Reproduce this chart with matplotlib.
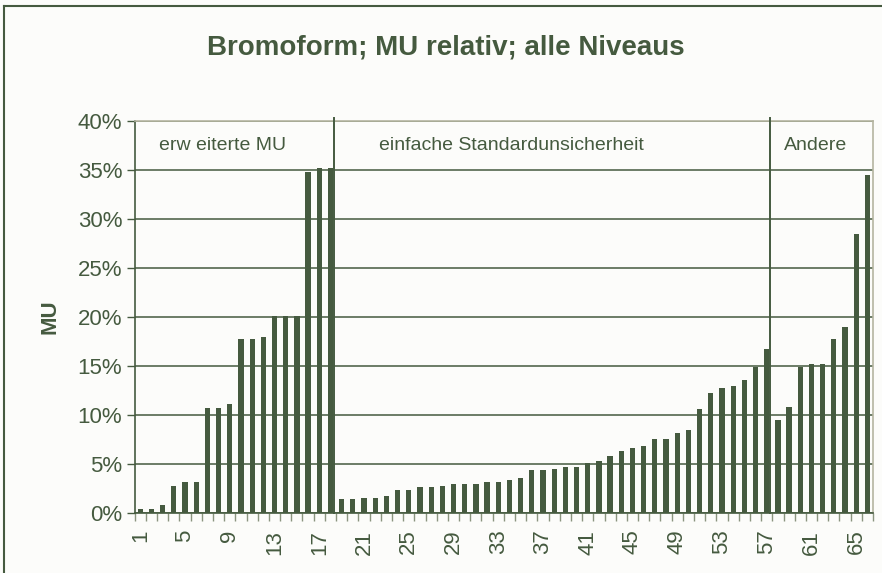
import matplotlib
matplotlib.use("Agg")
import matplotlib.pyplot as plt
from matplotlib.lines import Line2D
import numpy as np

categories = list(range(1, 67))
values = [0.4, 0.4, 0.8, 2.8, 3.2, 3.2, 10.7, 10.7, 11.1, 17.8,
          17.8, 18.0, 20.1, 20.1, 20.1, 34.8, 35.2, 35.2, 1.4, 1.4,
          1.5, 1.5, 1.7, 2.3, 2.3, 2.7, 2.7, 2.8, 3.0, 3.0,
          3.0, 3.2, 3.2, 3.4, 3.6, 4.35, 4.35, 4.5, 4.7, 4.7,
          5.1, 5.3, 5.8, 6.3, 6.6, 6.8, 7.6, 7.6, 8.2, 8.5,
          10.6, 12.2, 12.8, 13.0, 13.6, 14.9, 16.7, 9.5, 10.8, 14.9,
          15.2, 15.2, 17.8, 19.0, 28.5, 34.5]
tick_labels = [str(c) for c in range(1, 67, 4)]
section_labels = ["erw eiterte MU", "einfache Standardunsicherheit", "Andere"]
section_label_x = [2.7, 22.3, 58.5]
separators = [18.3, 57.3]
title = "Bromoform; MU relativ; alle Niveaus"
ylabel = "MU"

green = "#455a3f"
bg = "#fcfcfa"
plt.rcParams["font.family"] = ["Liberation Sans", "DejaVu Sans"]

fig = plt.figure(figsize=(8.82, 5.73), dpi=100, facecolor=bg)
ax = fig.add_axes([0.1527, 0.1047, 0.8371, 0.6841], facecolor=bg)

x = np.array(categories)
ax.bar(x, values, width=0.47, color=green, zorder=3)

ax.set_xlim(0.5, 66.5)
ax.set_ylim(0, 40)
ax.set_yticks(np.arange(0, 41, 5))
ax.set_yticklabels([f"{v}%" for v in range(0, 41, 5)], fontsize=16, color=green)
ax.yaxis.grid(True, color=green, linewidth=1.1, zorder=1)

ax.set_xticks(np.arange(1, 67, 4))
ax.set_xticklabels(tick_labels, rotation=90, fontsize=16, color=green)
ax.set_xticks(np.arange(0.5, 67, 1), minor=True)
ax.tick_params(axis="x", which="major", length=0, pad=12)
ax.tick_params(axis="x", which="minor", length=6, color="#8a947f", width=1)
ax.tick_params(axis="y", length=6, color=green, width=1, pad=3)

for s in ["top", "right"]:
    ax.spines[s].set_color("#b4b4a0")
    ax.spines[s].set_linewidth(1.2)
for s in ["left", "bottom"]:
    ax.spines[s].set_color(green)
    ax.spines[s].set_linewidth(1.2)

for sx in separators:
    ax.plot([sx, sx], [0, 40.3], color=green, linewidth=1.4, zorder=4, clip_on=False)

for lbl, lx in zip(section_labels, section_label_x):
    ax.text(lx, 37.5, lbl, fontsize=14, color=green, ha="left", va="center")

ax.set_ylabel(ylabel, fontsize=16, fontweight="bold", color=green, labelpad=12)

fig.text(0.505, 0.917, title, fontsize=20, fontweight="bold", color=green,
         ha="center", va="center")

fig.add_artist(Line2D([4 / 882, 4 / 882], [0, 1 - 6 / 573], transform=fig.transFigure,
                      color=green, linewidth=1.5))
fig.add_artist(Line2D([4 / 882, 1], [1 - 6 / 573, 1 - 6 / 573], transform=fig.transFigure,
                      color=green, linewidth=1.5))

fig.savefig("out.png", dpi=100, facecolor=bg)
